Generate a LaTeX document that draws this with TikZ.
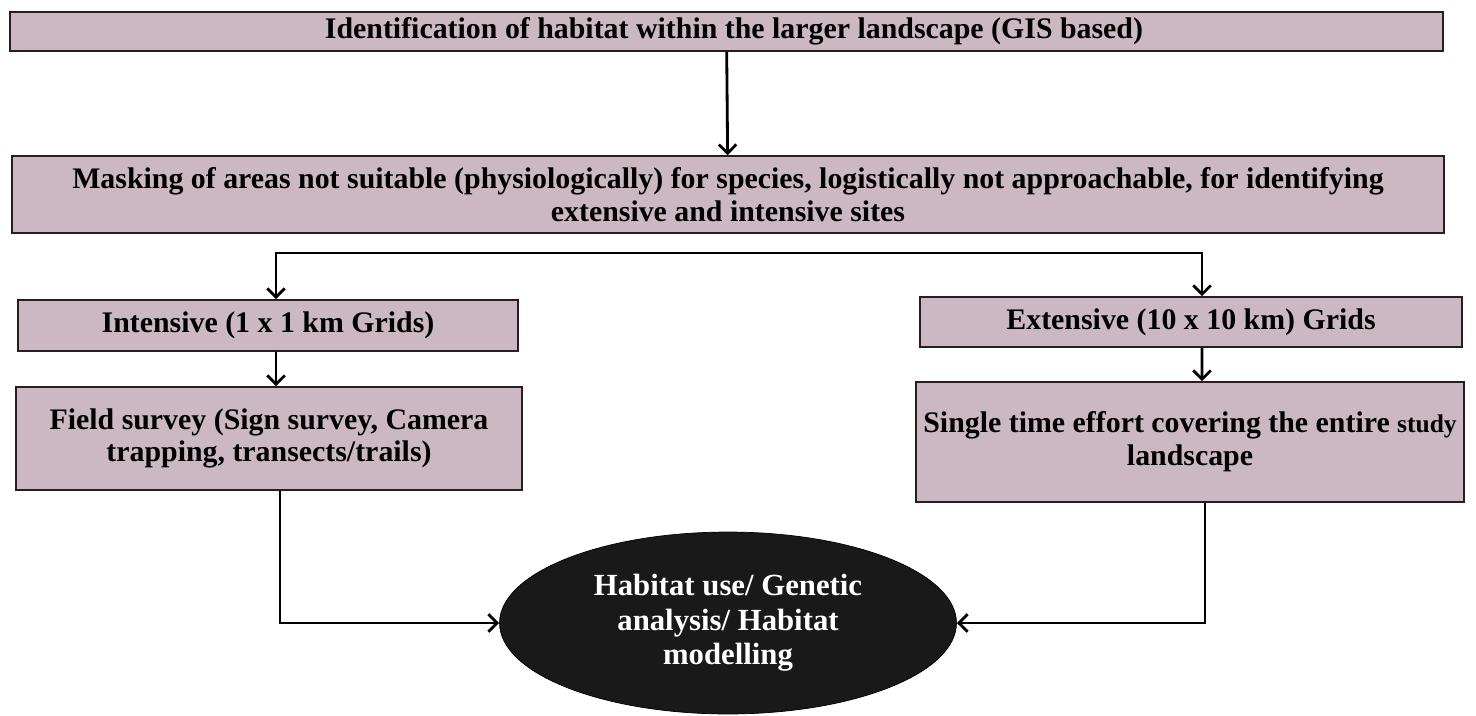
\documentclass[tikz,border=0pt]{standalone}
\usepackage{fontspec}
\setmainfont{Liberation Serif}
\usetikzlibrary{arrows.meta,positioning,shapes.geometric}

\definecolor{boxfill}{RGB}{204,184,195}
\definecolor{boxedge}{RGB}{40,30,34}

\tikzset{
  stagebox/.style={draw=boxedge, fill=boxfill, line width=0.9pt, inner sep=0pt,
    align=center, font=\fontsize{17}{18.6}\selectfont\bfseries},
  resultnode/.style={ellipse, draw=black, fill=black!90, text=white, inner sep=0pt,
    align=center, font=\fontsize{17.5}{19.6}\selectfont\bfseries},
  link/.style={-{Straight Barb[length=5pt,width=10pt]}, line width=1.6pt},
}

\begin{document}
\begin{tikzpicture}[x=0.02cm, y=-0.02cm]

    % Fix the page to the size of the reference
    \useasboundingbox (0,0) rectangle (1476,716);

    % Top two stages
    \node[stagebox, minimum width=28.66cm, minimum height=0.78cm] (ident) at (726.5,31.5)
        {\hspace*{0.3cm}Identification of habitat within the larger landscape (GIS based)};
    \node[stagebox, minimum width=28.64cm, minimum height=1.54cm] (mask) at (728,194.5)
        {Masking of areas not suitable (physiologically) for species, logistically not approachable, for identifying\\
         extensive and intensive sites};

    % Left branch
    \node[stagebox, minimum width=10.0cm, minimum height=1.02cm] (intens) at (268,325.5)
        {Intensive (1 x 1 km Grids)};
    \node[stagebox, minimum width=10.12cm, minimum height=2.06cm] (field) at (269,438.5)
        {Field survey (Sign survey, Camera\\ trapping, transects/trails)};

    % Right branch
    \node[stagebox, minimum width=10.84cm, minimum height=1.0cm] (extens) at (1191,322)
        {Extensive (10 x 10 km) Grids};
    \node[stagebox, minimum width=10.96cm, minimum height=2.4cm] (single) at (1190,442)
        {Single time effort covering the entire {\fontsize{14.5}{18.6}\selectfont study}\\ landscape};

    % Outcome
    \node[resultnode, minimum width=9.14cm, minimum height=3.64cm] (result) at (728,623)
        {Habitat use/ Genetic\\ analysis/ Habitat\\ modelling};

    % Connectors
    \coordinate (fork) at (740,253);
    \draw[link] (ident) -- (mask);
    \draw[link] (fork) -| ([xshift=0.16cm]intens.north);
    \draw[link] (fork) -| ([xshift=0.22cm]extens.north);
    \draw[link] ([xshift=0.16cm]intens.south) -- ([xshift=0.14cm]field.north);
    \draw[link] ([xshift=0.22cm]extens.south) -- ([xshift=0.24cm]single.north);
    \draw[link] ([xshift=0.22cm]field.south) |- (result.west);
    \draw[link] ([xshift=0.3cm]single.south) |- (result.east);

\end{tikzpicture}
\end{document}
